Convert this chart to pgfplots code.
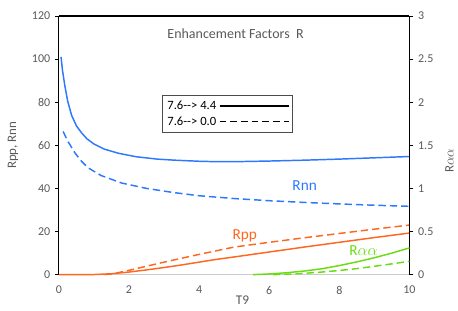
\documentclass[border=0pt]{standalone}
\usepackage{fontspec}
\setmainfont{Carlito}
\usepackage{pgfplots}
\pgfplotsset{compat=1.18}
\definecolor{cblue}{RGB}{45,120,255}
\definecolor{corange}{RGB}{255,102,30}
\definecolor{cgreen}{RGB}{105,220,20}
\definecolor{tgrey}{RGB}{89,89,89}
\begin{document}
\begin{tikzpicture}
\pgfplotsset{
  common/.style={
    at={(0pt,0pt)}, anchor=south west,
    width=263.25pt, height=194.25pt, scale only axis,
    xmin=0, xmax=10,
    /pgf/number format/assume math mode=true,
    tick label style={font=\fontsize{9}{10}\selectfont, text=tgrey},
    major tick length=3pt,
    tick align=outside,
    clip=false,
  },
  sol/.style={line width=1.1pt},
  das/.style={line width=1.1pt, dash pattern=on 5.5pt off 3pt},
}
\begin{axis}[common,
  ymin=0, ymax=120,
  xtick={0,2,4,6,8,10}, ytick={0,20,40,60,80,100,120},
  axis x line*=bottom, axis y line*=left,
  x axis line style={draw=gray!40, line width=1.2pt, -},
  y axis line style={draw=black, line width=0.8pt, -},
  xtick style={draw=none},
  ytick style={draw=black, line width=0.6pt},
  xticklabel style={yshift=-2pt},
  ylabel={Rpp, Rnn},
  ylabel style={at={(axis description cs:-0.131,0.5)}, anchor=center, font=\fontsize{9.7}{11}\selectfont, text=tgrey},
  xlabel={T9},
  xlabel style={at={(axis description cs:0.524,-0.097)}, anchor=center, font=\fontsize{10}{12}\selectfont, text=tgrey},
  legend style={at={(rel axis cs:0.293,0.695)}, anchor=north west, draw=black!70, line width=0.6pt,
    font=\fontsize{9.5}{11}\selectfont, inner sep=2pt, row sep=0pt, text=black},
  legend cell align=left,
  legend plot pos=right,
  legend image code/.code={\draw[#1] (0pt,0pt) -- (44pt,0pt); \path (0pt,0pt) -- (52pt,0pt);},
]
\addlegendimage{black, line width=1.1pt}
\addlegendentry{7.6{-}{-}> 4.4}
\addlegendimage{black, line width=1.1pt, dash pattern=on 5pt off 3pt}
\addlegendentry{7.6{-}{-}> 0.0}
% Rnn solid
\addplot[cblue, sol, forget plot] coordinates {
(0.06,101) (0.1,95) (0.17,87.5) (0.25,80.5) (0.36,74) (0.5,69) (0.65,65.7) (0.8,63) (1.0,60.6) (1.3,58.2) (1.7,56.3) (2.2,54.7) (2.8,53.6) (3.3,53.1) (4.0,52.6) (4.5,52.4) (5.0,52.4) (6.0,52.7) (7.0,53.1) (8.0,53.6) (9.0,54.2) (10.0,54.8)};
% Rnn dashed
\addplot[cblue, das, forget plot] coordinates {
(0.12,66.4) (0.25,62) (0.46,56.4) (0.65,52.5) (0.83,49.6) (1.2,46) (1.79,42.5) (2.5,40) (3.26,38.1) (4.0,36.6) (5.0,35.3) (6.0,34.3) (7.0,33.5) (8.0,32.8) (9.0,32.2) (10.0,31.7)};
% Rpp solid
\addplot[corange, sol, forget plot] coordinates {
(0,0) (0.5,0) (1.0,0.05) (1.5,0.4) (2.0,1.2) (2.5,2.2) (3.0,3.3) (3.5,4.5) (4.0,5.8) (4.5,7.1) (5.0,8.2) (6.0,10.5) (7.0,12.8) (8.0,15.0) (9.0,17.2) (10.0,19.3)};
% Rpp dashed
\addplot[corange, das, forget plot] coordinates {
(1.3,0) (1.54,0.4) (2.0,2.0) (2.5,3.9) (3.0,5.8) (3.5,7.6) (4.0,9.4) (4.5,11.1) (5.0,12.8) (6.0,15.0) (7.0,17.1) (8.0,19.1) (9.0,21.1) (10.0,23.0)};
\node[font=\fontsize{10.5}{12}\selectfont, text=tgrey] at (axis cs:5.04,112) {Enhancement Factors\ \ R};
\node[font=\fontsize{11.5}{13}\selectfont, text=cblue] at (axis cs:7.01,41.2) {Rnn};
\node[font=\fontsize{11.5}{13}\selectfont, text=corange] at (axis cs:5.30,18.1) {Rpp};
\node[font=\fontsize{11.5}{13}\selectfont, text=cgreen] at (axis cs:8.69,11.1) {R$\alpha\alpha$};
\end{axis}
\begin{axis}[common,
  ymin=0, ymax=3,
  axis y line*=right, axis x line*=top,
  xtick=\empty, ytick={0,0.5,1,1.5,2,2.5,3},
  x axis line style={draw=black, line width=0.8pt, -},
  y axis line style={draw=black, line width=0.8pt, -},
  ytick style={draw=black, line width=0.6pt},
  ylabel={R$\alpha\alpha$},
  ylabel style={at={(axis description cs:1.114,0.44)}, anchor=center, rotate=0, font=\fontsize{9.7}{11}\selectfont, text=tgrey},
]
% R alpha alpha solid
\addplot[cgreen, sol] coordinates {
(5.54,0) (6.0,0.008) (6.5,0.022) (7.0,0.042) (7.5,0.068) (8.0,0.105) (8.5,0.148) (9.0,0.196) (9.5,0.25) (10.0,0.31)};
% R alpha alpha dashed
\addplot[cgreen, das] coordinates {
(6.1,0) (6.5,0.005) (7.0,0.015) (7.5,0.03) (8.0,0.048) (8.5,0.07) (9.0,0.097) (9.5,0.125) (10.0,0.155)};
\end{axis}
\path[use as bounding box] (-44.25pt,-27pt) rectangle (299.25pt,206.25pt);
\end{tikzpicture}
\end{document}
